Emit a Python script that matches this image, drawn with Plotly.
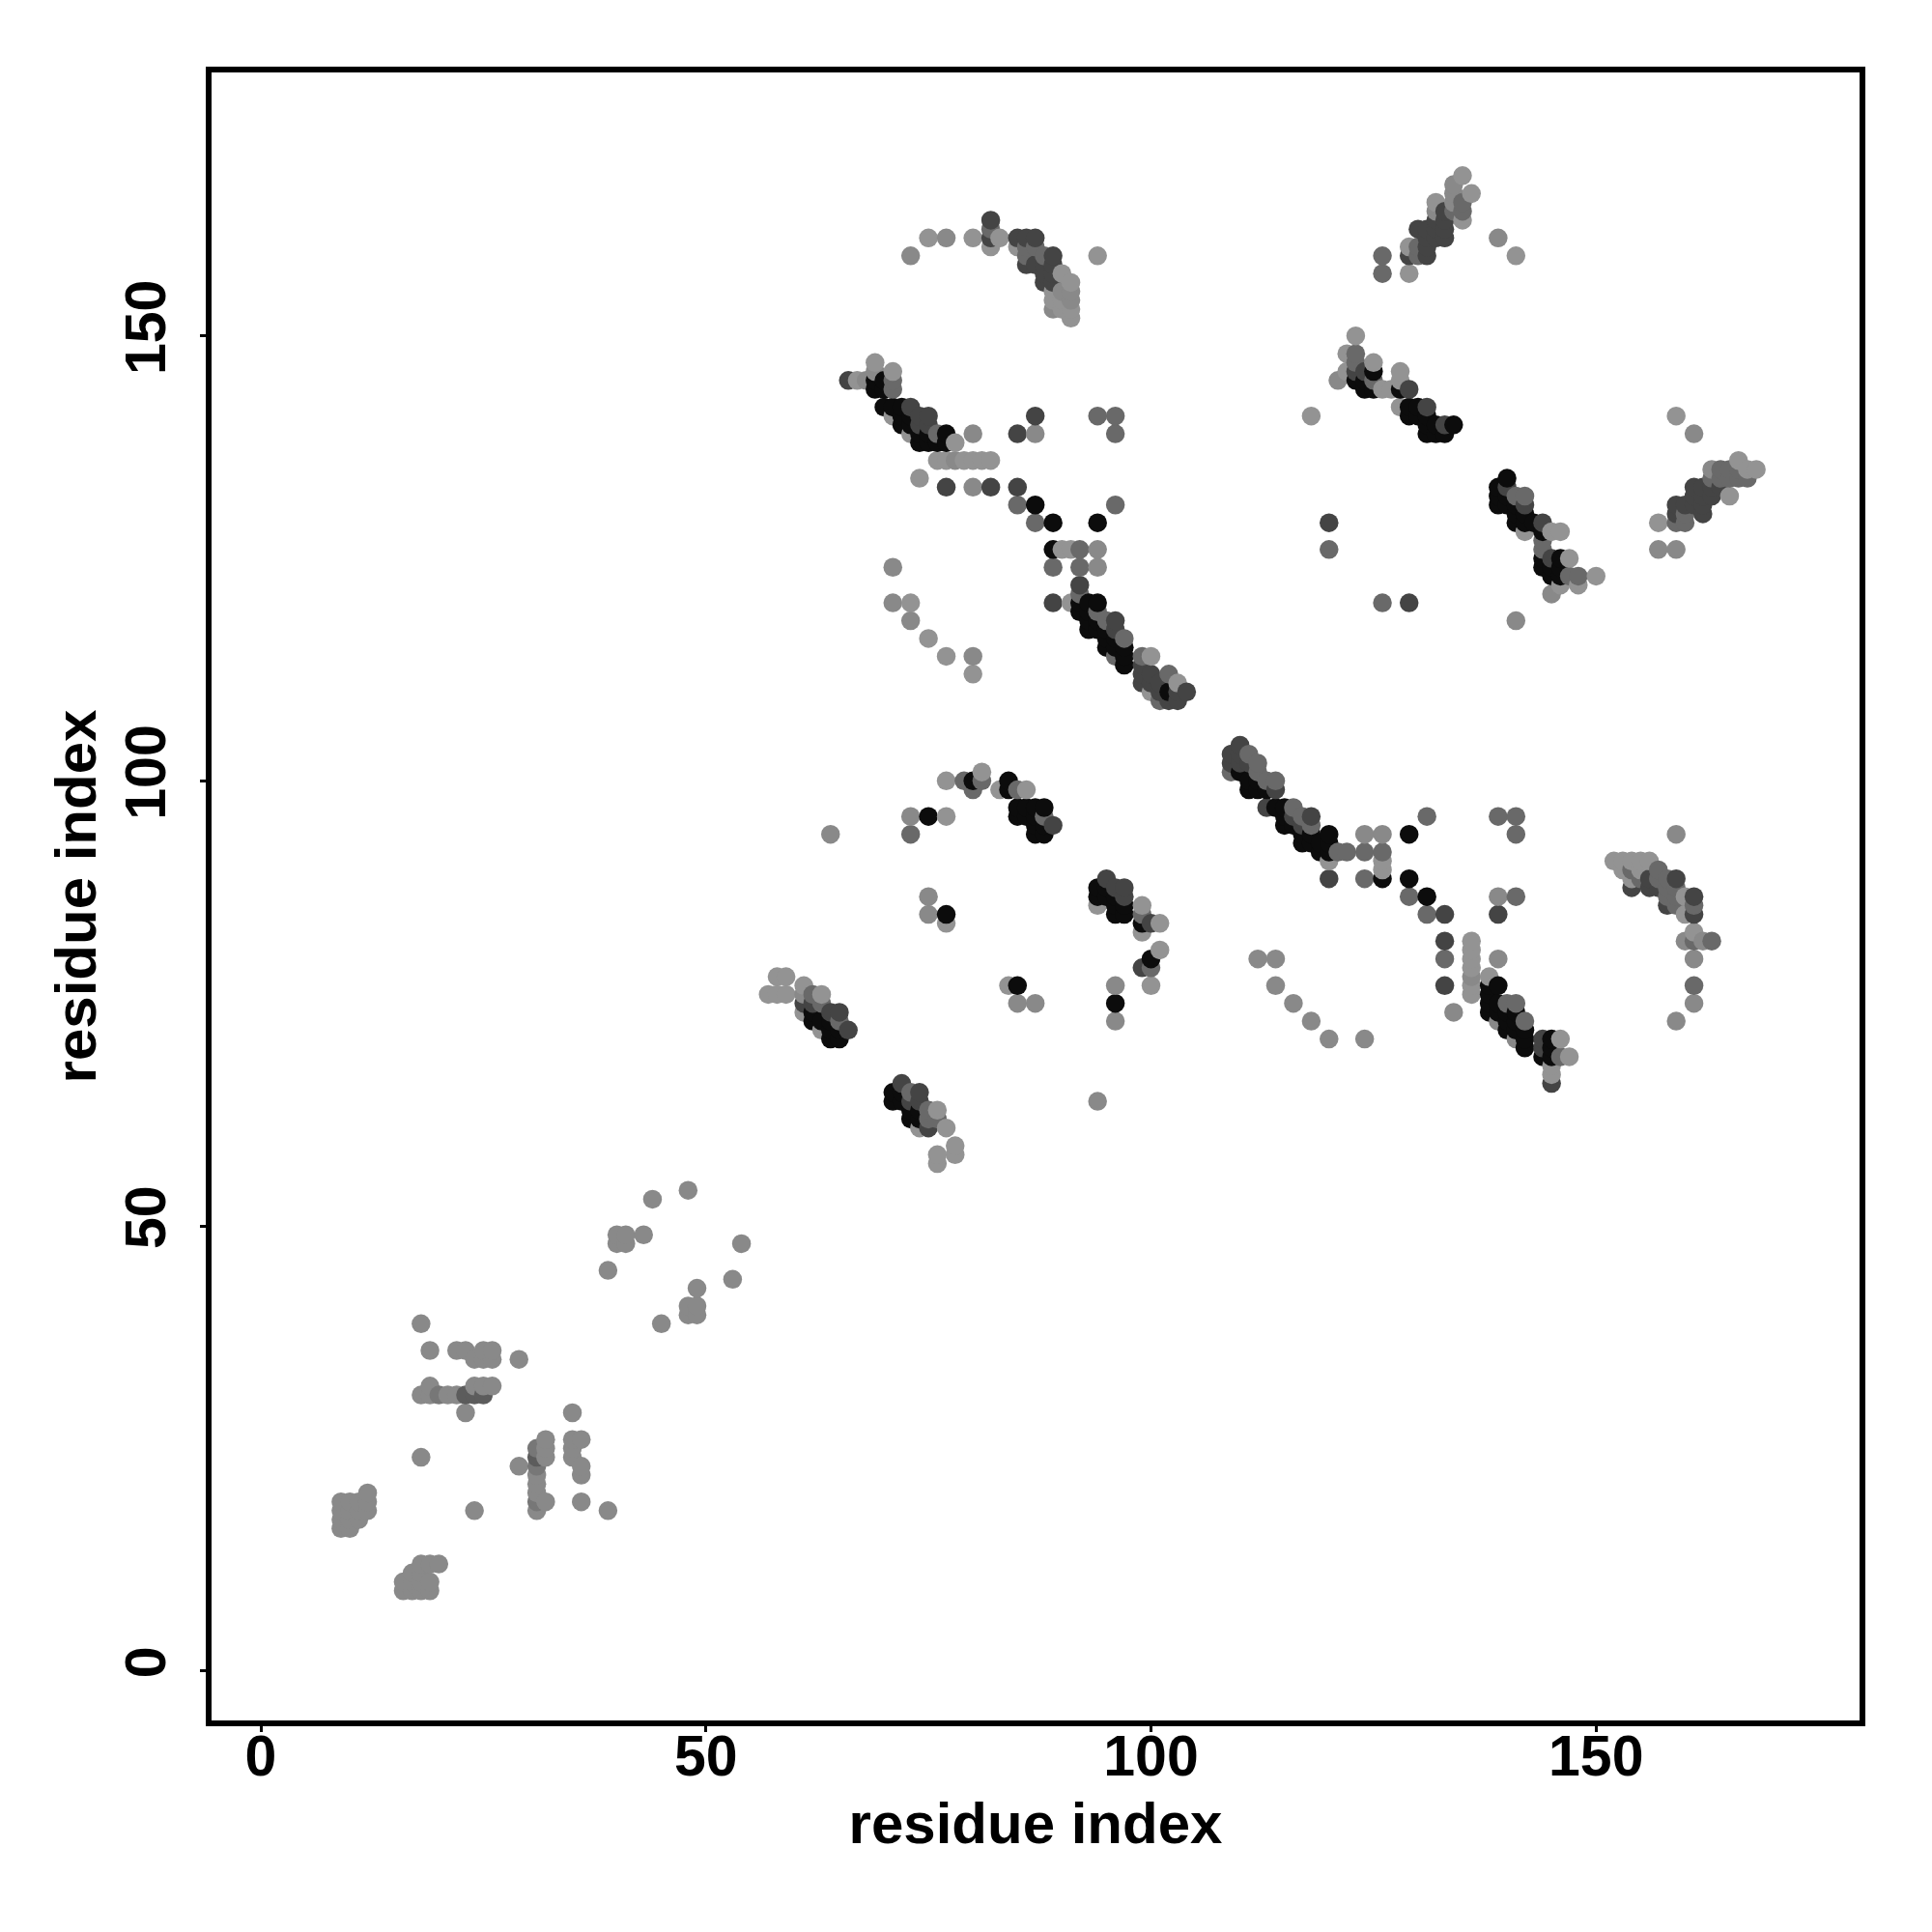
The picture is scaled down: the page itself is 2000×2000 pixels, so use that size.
import plotly.graph_objects as go

# contact points (residue i, residue j), grouped by grey level
shade_light = [
(120,91),(126,91),(126,90),(136,82),(136,81),(136,80),(136,79),(136,77),(136,76),(138,78),(146,71),(147,69),(145,67),(145,68),
(152,91),(153,91),(154,91),(155,91),(156,91),(153,90),(155,90),(154,89),(160,87),(160,85),(161,83),
(58,78),(59,78),(57,76),(58,76),(59,76),(61,77),(63,76),(61,74),(63,72),(76,63),(74,61),(77,61),(78,59),(76,58),(78,58),(76,57),
(77,100),(81,101),(83,99),(86,99),(77,96),(77,84),(84,77),(94,86),(99,86),(99,83),(101,81),(100,77),(101,84),
(67,145),(69,147),(71,146),(71,141),(73,139),(78,138),(76,136),(77,136),(79,136),(80,136),(81,136),(82,136),
(74,134),(90,126),(91,126),(73,120),(91,120),(75,116),(77,114),(80,112),(100,110),(103,111),(100,114),
(123,150),(122,148),(125,147),(122,146),(126,144),(127,144),(128,146),(128,145),(128,142),(118,141),
(142,128),(145,128),(146,128),(147,125),(150,123),(146,122),(148,122),(159,141),(157,129),(165,132),(166,136),(167,135),(168,135),
(75,161),(80,161),(83,161),(82,160),(85,160),(90,157),(91,156),(89,155),(89,154),(90,154),(90,153),(91,153),(91,152),(94,159),
(135,168),(136,166),(132,165),(129,160),(129,157),(141,159),(135,163),
]
shade_grey = [
(48,54),(44,53),(43,49),(40,48),(40,49),(41,48),(41,49),(39,45),(54,48),(53,44),(49,43),(48,41),(49,41),(48,40),(49,40),(45,39),
(18,39),(19,36),(22,36),(23,36),(24,35),(25,35),(26,35),(25,36),(26,36),(29,35),(18,31),(19,31),(19,32),(21,31),(22,31),(24,32),(25,32),(26,32),
(23,29),(35,29),(32,26),(35,26),(36,26),(32,25),(32,24),(35,25),(35,24),(36,23),(36,22),(29,23),(31,22),(31,21),(31,20),(31,18),(32,19),(36,19),(39,18),(24,18),(18,24),
(9,19),(9,18),(9,17),(9,16),(10,19),(10,18),(10,17),(10,16),(11,19),(11,18),(11,17),(12,20),(12,19),(12,18),
(18,12),(19,12),(20,12),(17,11),(18,11),(16,10),(16,9),(17,10),(17,9),(18,10),(18,9),(19,10),(19,9),
(136,78),(139,73),(141,71),(134,74),(112,80),(114,80),(114,77),(116,75),(118,73),(120,71),(124,71),(139,87),(139,80),(159,94),(160,82),(161,80),(161,75),(159,73),(162,82),
(73,96),(64,94),(75,87),(96,77),(96,73),(94,64),(87,75),(85,75),(75,85),(80,139),(87,139),(80,133),(94,126),(94,124),(71,124),(71,120),(73,118),(80,114),(124,94),(126,94),
(69,146),(68,145),(121,145),(141,118),(145,121),(159,126),(157,126),(161,139),(73,159),(77,161),(139,161),(132,164),(134,167),(134,166),(134,165),(163,135),
(89,153),(91,155),(91,154),(90,155),(78,136),(61,76),
]
shade_mid = [
(79,100),(81,100),(80,99),(85,99),(73,94),(100,79),(99,85),(65,73),(62,76),(63,75),(75,63),(73,65),(76,62),(75,62),
(114,100),(113,100),(111,103),(112,102),(112,101),(109,101),(116,97),(117,96),(118,95),(121,92),(122,92),(124,92),(126,92),(124,89),
(131,96),(139,96),(141,96),(141,94),(141,87),(129,87),(131,85),(133,80),(161,77),(140,75),(141,75),(142,73),(146,69),(163,82),
(154,90),(157,90),(157,89),(158,89),(158,88),(159,88),(158,87),(159,87),(159,86),(161,86),(155,89),(161,82),
(76,139),(85,131),(96,131),(87,129),(92,126),(89,124),(92,124),(92,121),(94,119),(95,118),(96,139),(94,141),(96,141),(99,114),(101,109),
(123,148),(123,147),(125,145),(141,132),(142,132),(144,127),(144,126),(148,123),(147,123),(159,129),(160,129),(160,130),(120,126),(126,120),
(82,162),(86,160),(87,160),(86,159),(88,159),(130,160),(130,159),(126,159),(126,157),(135,165),(135,164),(134,164),(163,134),(164,135),(164,134),(165,135),(165,134),(166,135),(166,134),(167,134),
(102,112),(97,116),(96,114),(88,96),(71,144),(71,145),
]
shade_dark = [
(66,145),(109,103),(110,104),(110,103),(109,102),(110,102),(111,102),(113,97),(114,99),(118,96),(116,96),(117,95),(120,89),(133,85),(133,82),(133,77),
(139,85),(144,71),(144,70),(145,66),(154,88),(156,89),(156,88),(157,88),(158,86),(159,89),(161,87),(161,85),
(61,75),(62,75),(64,74),(65,74),(66,72),(72,66),(74,65),(74,64),(73,64),(75,61),(89,95),(95,89),(96,88),(97,88),(97,87),(100,84),(99,79),
(73,142),(74,141),(75,141),(74,140),(75,140),(77,133),(82,133),(85,133),(85,139),(87,141),(89,120),(92,122),(96,118),(96,117),(99,113),(100,112),(99,111),(100,111),(101,111),(103,110),(104,110),(102,109),(103,109),(101,110),
(123,146),(124,146),(129,144),(131,142),(133,140),(140,133),(142,131),(144,129),(145,125),(120,129),(129,120),(159,131),(160,131),(161,133),(161,131),(161,132),(162,133),(162,132),(162,131),(162,130),(159,130),(163,133),(163,132),(164,133),
(82,163),(82,161),(85,161),(86,161),(87,161),(89,159),(87,158),(88,158),(89,158),(88,157),(89,157),(88,156),(89,156),(86,158),(133,164),(132,163),(133,163),(130,162),(131,162),(132,162),(133,162),(131,161),(132,161),(133,161),(131,160),(131,159),(129,159),(99,112),
]
shade_black = [
(75,96),(80,100),(77,85),(84,100),(84,99),(85,97),(86,97),(85,96),(86,96),(87,96),(87,95),(88,95),(87,94),(88,94),(87,97),(88,97),
(94,88),(95,88),(94,87),(95,87),(96,87),(96,86),(97,86),(96,85),(97,85),(99,84),(100,80),(96,75),(85,77),
(62,74),(62,73),(63,73),(64,73),(64,72),(65,72),(64,71),(65,71),(71,65),(72,65),(71,64),(72,64),(73,63),(74,63),(73,62),(74,62),
(110,101),(111,100),(112,100),(111,99),(112,99),(113,99),(114,97),(115,97),(115,96),(115,95),(116,95),(117,94),(118,94),(120,94),(117,93),(118,93),(119,93),(120,93),(119,92),(120,92),
(126,89),(129,94),(129,89),(131,87),(139,77),(138,77),(138,76),(138,75),(139,75),(138,74),(139,74),(140,74),(140,73),(141,73),(141,74),(140,72),(141,72),(142,72),(142,71),(142,70),(145,71),(145,70),(144,69),(145,69),
(69,145),(69,144),(70,145),(70,144),(70,142),(71,142),(72,142),(72,141),(73,141),(72,140),(73,140),(74,139),(75,139),(77,139),(74,138),(75,138),(76,138),(77,138),
(87,131),(89,129),(94,129),(89,126),(92,120),(93,120),(94,120),(92,119),(93,119),(93,118),(94,118),(93,117),(94,117),(95,117),(95,116),(96,116),(95,115),(96,115),(97,115),(97,114),(97,113),(102,110),
(123,145),(124,145),(124,144),(125,146),(125,144),(128,144),(129,142),(130,142),(129,141),(130,141),(131,141),(131,140),(132,140),(134,140),(131,139),(132,139),(133,139),
(140,134),(139,133),(139,132),(140,132),(139,131),(140,131),(141,131),(141,130),(142,130),(141,129),(142,129),(143,129),(144,128),(144,125),(146,125),(144,124),(145,124),(146,124),(145,123),(146,123),
]
shade_overlap = [(20,31),(31,23),(31,19),(31,25)]
shade_overlap_dark = [(23,31),(24,31),(25,31),(31,24)]

shades = [
    (shade_light, "#939393"),
    (shade_grey, "#898989"),
    (shade_mid, "#696969"),
    (shade_dark, "#444444"),
    (shade_black, "#0c0c0c"),
    (shade_overlap, "#777777"),
    (shade_overlap_dark, "#5c5c5c"),
]

tick_vals = [0, 50, 100, 150]
axis_label = "residue index"

points = {}
for pts, col in shades:
    for p in pts:
        points[p] = col
order = sorted(points)
xs = [p[0] for p in order]
ys = [p[1] for p in order]
cols = [points[p] for p in order]

fig = go.Figure(go.Scatter(x=xs, y=ys, mode="markers",
                           marker=dict(size=19.5, color=cols, line=dict(width=0)),
                           hoverinfo="skip"))
font_family = "Liberation Sans"
title_font = dict(family=font_family, size=60, color="black", weight="bold")
axis_common = dict(
    tickmode="array", tickvals=tick_vals, ticktext=[str(v) for v in tick_vals],
    showgrid=False, zeroline=False, showline=True, mirror=True,
    linecolor="black", linewidth=6, ticks="outside", ticklen=6, tickwidth=3, tickcolor="black",
    tickfont=dict(family=font_family, size=59, color="black", weight="bold"),
)
fig.update_xaxes(range=[-5.534, 179.6], ticklabelstandoff=-26,
                 title=dict(text=axis_label, standoff=18, font=title_font), **axis_common)
fig.update_yaxes(range=[-5.57, 179.6], tickangle=-90, ticklabelstandoff=12,
                 title=dict(text=axis_label, standoff=1, font=title_font), **axis_common)
fig.update_layout(width=2000, height=2000, showlegend=False,
                  margin=dict(l=211, r=83, t=67, b=227, autoexpand=False),
                  paper_bgcolor="white", plot_bgcolor="white")
fig.write_html("out.html")
